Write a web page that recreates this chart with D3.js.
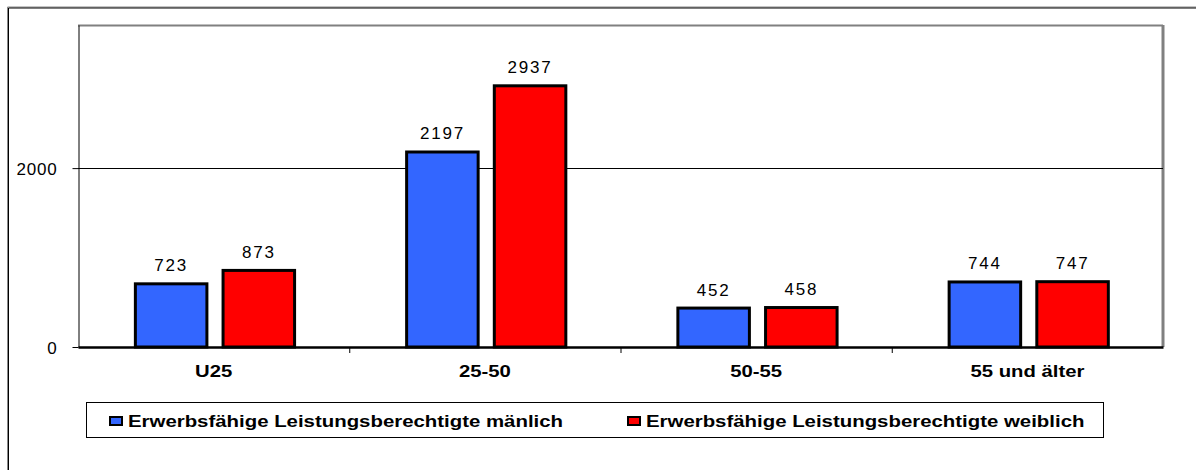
<!DOCTYPE html>
<html>
<head>
<meta charset="utf-8">
<script src="https://cdn.jsdelivr.net/npm/d3@7"></script>
<style>
  body { margin: 0; background: #fff; }
  svg { display: block; }
</style>
</head>
<body>
<div id="chart"></div>
<script>
const categories = ['U25', '25-50', '50-55', '55 und älter'];
const seriesNames = [
  'Erwerbsfähige Leistungsberechtigte mänlich',
  'Erwerbsfähige Leistungsberechtigte weiblich'
];
const maleValues = [723, 2197, 452, 744];
const femaleValues = [873, 2937, 458, 747];
const yTicks = [0, 2000];

const width = 1196;
const height = 470;
const colors = ['#3366FF', '#FF0000'];
const fontFamily = '"Liberation Sans", Arial, sans-serif';

const svg = d3.select('#chart').append('svg')
  .attr('width', width).attr('height', height);

// outer frame
svg.append('path')
  .attr('d', `M7.5,${height} V7 H${width}`)
  .attr('fill', 'none').attr('stroke', '#888').attr('stroke-width', 1);
svg.append('path')
  .attr('d', `M8.5,${height} V8 H${width}`)
  .attr('fill', 'none').attr('stroke', '#000').attr('stroke-width', 1);

const plot = { left: 78, right: 1163, top: 25, bottom: 347 };

const x = d3.scaleBand().domain(categories).range([plot.left, plot.right]);
const bw = x.bandwidth();
const x1 = d3.scaleBand().domain([0, 1])
  .range([bw * 0.206, bw * 0.804]).paddingInner(0.15);
const y = d3.scaleLinear().domain([0, 3600]).range([plot.bottom, plot.top]);

// plot area border (top + right gray)
svg.append('path')
  .attr('d', `M${plot.left},${plot.top + 0.5} H${plot.right}`)
  .attr('stroke', '#808080').attr('stroke-width', 2).attr('fill', 'none');
svg.append('path')
  .attr('d', `M${plot.right},${plot.top} V${plot.bottom}`)
  .attr('stroke', '#808080').attr('stroke-width', 3).attr('fill', 'none');

// gridlines
svg.append('g').selectAll('line')
  .data(yTicks.filter(d => d > 0))
  .join('line')
  .attr('x1', plot.left).attr('x2', plot.right)
  .attr('y1', d => Math.round(y(d)) + 0.5).attr('y2', d => Math.round(y(d)) + 0.5)
  .attr('stroke', '#000').attr('stroke-width', 1);

// y axis
const yAxis = svg.append('g')
  .attr('transform', `translate(${plot.left + 0.5},0)`)
  .call(d3.axisLeft(y).tickValues(yTicks).tickSizeInner(6).tickSizeOuter(0)
    .tickPadding(15).tickFormat(d3.format('d')));
yAxis.select('.domain').attr('stroke', '#000');
yAxis.selectAll('text')
  .attr('font-family', fontFamily).attr('font-size', 17).attr('fill', '#000')
  .attr('letter-spacing', 0.8)
  .attr('dy', '0.36em');

// bars
const rows = categories.map((c, i) => ({ cat: c, values: [maleValues[i], femaleValues[i]] }));
const groups = svg.append('g').selectAll('g')
  .data(rows).join('g')
  .attr('transform', d => `translate(${x(d.cat)},0)`);

groups.selectAll('rect')
  .data(d => d.values.map((v, s) => ({ v, s })))
  .join('rect')
  .attr('x', d => x1(d.s) + 1.5)
  .attr('width', x1.bandwidth() - 3)
  .attr('y', d => y(d.v) + 1.5)
  .attr('height', d => y(0) - y(d.v) - 1.5)
  .attr('fill', d => colors[d.s])
  .attr('stroke', '#000').attr('stroke-width', 3);

groups.selectAll('text')
  .data(d => d.values.map((v, s) => ({ v, s })))
  .join('text')
  .attr('x', d => x1(d.s) + x1.bandwidth() / 2)
  .attr('y', d => y(d.v) - 11)
  .attr('text-anchor', 'middle')
  .attr('font-family', fontFamily).attr('font-size', 17)
  .attr('letter-spacing', 1.8)
  .text(d => d.v);

// x axis
const xAxis = svg.append('g')
  .attr('transform', `translate(0,${plot.bottom})`)
  .call(d3.axisBottom(x).tickSize(0).tickPadding(0).tickFormat(() => ''));
xAxis.select('.domain').attr('stroke', '#000').attr('stroke-width', 2.5);
xAxis.selectAll('.tick').remove();

// category separators
svg.append('g').selectAll('line')
  .data(categories.slice(1))
  .join('line')
  .attr('x1', d => x(d) + 0.5).attr('x2', d => x(d) + 0.5)
  .attr('y1', plot.bottom).attr('y2', plot.bottom + 6)
  .attr('stroke', '#000');

svg.append('g').selectAll('text')
  .data(categories)
  .join('text')
  .attr('transform', d => `translate(${x(d) + bw / 2},377) scale(1.27,1)`)
  .attr('text-anchor', 'middle')
  .attr('font-family', fontFamily).attr('font-size', 16).attr('font-weight', 'bold')
  .text(d => d);

// legend
svg.append('rect')
  .attr('x', 86.5).attr('y', 402.5).attr('width', 1017).attr('height', 35)
  .attr('fill', '#fff').attr('stroke', '#000').attr('stroke-width', 1);

const legendX = [109, 627];
const legend = svg.append('g').selectAll('g')
  .data(seriesNames).join('g')
  .attr('transform', (d, i) => `translate(${legendX[i]},0)`);
legend.append('rect')
  .attr('x', 1).attr('y', 417).attr('width', 12).attr('height', 8)
  .attr('fill', (d, i) => colors[i]).attr('stroke', '#000').attr('stroke-width', 2);
legend.append('text')
  .attr('transform', 'translate(19,427) scale(1.2,1)')
  .attr('font-family', fontFamily).attr('font-size', 17).attr('font-weight', 'bold')
  .text(d => d);
</script>
</body>
</html>
